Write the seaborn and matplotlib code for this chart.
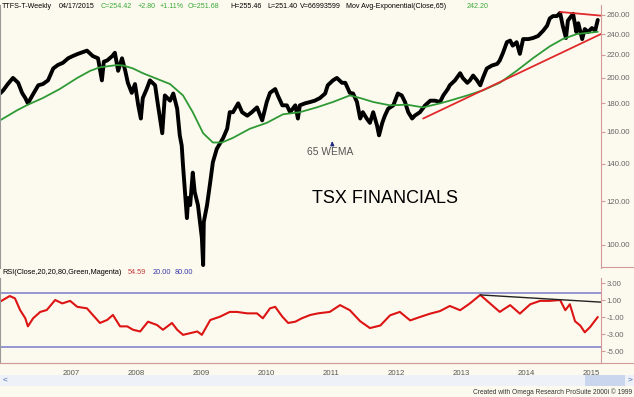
import numpy as np
import pandas as pd
import seaborn as sns
import matplotlib.pyplot as plt

# weekly closes (decimal year, price)
close_years = [2006.03, 2006.08, 2006.15, 2006.23, 2006.31, 2006.37, 2006.42, 2006.46, 2006.54, 2006.62,
               2006.69, 2006.77, 2006.85, 2006.92, 2007.00, 2007.08, 2007.15, 2007.23, 2007.37, 2007.46,
               2007.54, 2007.60, 2007.63, 2007.68, 2007.76, 2007.80, 2007.85, 2007.91, 2007.96, 2008.00,
               2008.06, 2008.11, 2008.16, 2008.20, 2008.23, 2008.29, 2008.34, 2008.42, 2008.46, 2008.53,
               2008.57, 2008.65, 2008.70, 2008.76, 2008.80, 2008.83, 2008.85, 2008.88, 2008.91, 2008.93,
               2008.96, 2009.00, 2009.03, 2009.08, 2009.14, 2009.16, 2009.17, 2009.22, 2009.27, 2009.31,
               2009.37, 2009.42, 2009.47, 2009.53, 2009.57, 2009.62, 2009.70, 2009.76, 2009.84, 2009.91,
               2009.99, 2010.07, 2010.14, 2010.19, 2010.27, 2010.31, 2010.38, 2010.45, 2010.50, 2010.58,
               2010.62, 2010.65, 2010.73, 2010.81, 2010.88, 2010.96, 2011.04, 2011.08, 2011.16, 2011.22,
               2011.30, 2011.35, 2011.42, 2011.47, 2011.53, 2011.58, 2011.62, 2011.68, 2011.73, 2011.78,
               2011.84, 2011.87, 2011.92, 2011.96, 2012.01, 2012.09, 2012.16, 2012.22, 2012.27, 2012.32,
               2012.38, 2012.42, 2012.50, 2012.58, 2012.66, 2012.73, 2012.81, 2012.86, 2012.93, 2012.96,
               2013.04, 2013.12, 2013.16, 2013.23, 2013.27, 2013.32, 2013.38, 2013.43, 2013.47, 2013.53,
               2013.61, 2013.69, 2013.73, 2013.78, 2013.84, 2013.89, 2013.93, 2013.99, 2014.04, 2014.09,
               2014.17, 2014.24, 2014.32, 2014.40, 2014.46, 2014.50, 2014.55, 2014.61, 2014.66, 2014.70,
               2014.75, 2014.78, 2014.86, 2014.91, 2014.94, 2015.00, 2015.04, 2015.09, 2015.15, 2015.20,
               2015.24]
close_values = [187.5, 190, 195, 200, 196, 188, 184, 180, 187, 194,
                195, 198, 208, 211, 213, 217, 219, 221, 224, 219,
                217, 198, 214, 215, 219, 222, 206, 217, 206, 196,
                188, 195, 178.5, 169, 184, 191, 198, 194, 180, 159,
                186, 182, 187.5, 176, 157.6, 151, 139, 124.6, 111.8, 121.5,
                118, 135, 124.6, 118, 103, 92, 110, 118, 130, 141,
                149, 152.5, 156, 162, 173.5, 173.5, 180, 173.5, 171, 173.5,
                177, 167.7, 181, 188, 191, 186, 178.5, 178.5, 173.5, 178.5,
                169, 178.5, 180, 181, 182, 184, 187.5, 194, 198, 200,
                196, 196, 188, 187.5, 181, 169, 173.5, 169, 166, 173.5,
                164, 157.6, 166, 171, 176, 178.5, 187.5, 186, 181, 173.5,
                169, 171, 173.5, 178.5, 182, 182, 181, 186, 191, 194,
                198, 204, 200, 196, 198, 202, 198, 194, 200, 208,
                210.6, 212, 215, 222, 232, 233.5, 228.7, 232, 221, 235,
                235, 236, 238, 243.4, 248.5, 256, 258.5, 258.5, 262, 248.5,
                236, 253.7, 261, 242, 251, 235, 245, 242, 246, 243.4,
                254.4]

# 65-week exponential moving average as drawn
ema_years = [2006.03, 2006.29, 2006.46, 2006.69, 2006.95, 2007.22, 2007.42, 2007.57, 2007.83, 2007.93,
             2008.08, 2008.23, 2008.34, 2008.65, 2008.85, 2009.00, 2009.16, 2009.31, 2009.45, 2009.62,
             2009.88, 2010.14, 2010.39, 2010.65, 2010.91, 2011.16, 2011.42, 2011.58, 2011.78, 2012.04,
             2012.30, 2012.55, 2012.81, 2012.96, 2013.23, 2013.47, 2013.73, 2013.99, 2014.24, 2014.50,
             2014.70, 2014.92, 2015.24]
ema_values = [167.7, 174.8, 179, 184, 191, 200, 206, 209, 211, 210.6,
              208, 204, 201.6, 195, 186, 173.5, 159, 153, 153, 156,
              162, 166, 172, 173.5, 177, 181, 186, 184, 181, 178.5,
              179, 177, 180, 182, 186, 190, 196, 206, 217, 228,
              235, 240, 242.2]

# RSI(20) as drawn against the right-hand scale
rsi_years = [2006.03, 2006.18, 2006.26, 2006.34, 2006.42, 2006.46, 2006.54, 2006.65, 2006.75, 2006.88,
             2006.99, 2007.11, 2007.22, 2007.37, 2007.46, 2007.57, 2007.68, 2007.77, 2007.88, 2007.99,
             2008.08, 2008.19, 2008.31, 2008.45, 2008.54, 2008.68, 2008.76, 2008.85, 2008.96, 2009.07,
             2009.14, 2009.27, 2009.42, 2009.57, 2009.68, 2009.84, 2009.99, 2010.08, 2010.19, 2010.27,
             2010.38, 2010.47, 2010.58, 2010.68, 2010.81, 2010.93, 2011.11, 2011.27, 2011.42, 2011.58,
             2011.73, 2011.89, 2012.04, 2012.19, 2012.35, 2012.50, 2012.66, 2012.81, 2012.96, 2013.12,
             2013.27, 2013.43, 2013.58, 2013.73, 2013.89, 2014.04, 2014.20, 2014.35, 2014.50, 2014.66,
             2014.74, 2014.81, 2014.89, 2014.97, 2015.04, 2015.12, 2015.24]
rsi_values = [0.8, 1.47, 1.2, -0.18, -1.15, -2.1, -1.15, -0.4, -0.18, 1.0,
              0.6, 0.9, 0.2, 0.02, -0.76, -1.7, -1.35, -0.76, -2.1, -2.1,
              -2.5, -2.7, -1.55, -1.94, -2.5, -1.7, -2.5, -3.1, -2.9, -2.7,
              -3.1, -1.35, -0.96, -0.4, -0.4, -0.57, -0.57, -1.15, 0.02, 0.2,
              -0.96, -1.7, -1.55, -1.15, -0.76, -0.57, -0.4, 0.4, -0.2, -1.5,
              -2.3, -2.0, -0.8, -0.4, -1.4, -1.0, -0.6, -0.3, 0.3, -0.2,
              0.6, 1.6, 0.6, -0.4, 0.4, -0.6, 0.5, 0.9, 0.9, 1.0,
              -0.2, 0.5, -1.5, -2.0, -2.8, -2.2, -1.0]

# hand-drawn trend lines (start/end)
support_years = [2012.55, 2015.29]
support_values = [169, 240]
resist_years = [2014.66, 2015.29]
resist_values = [263, 259]
rsi_trend_years = [2013.43, 2015.29]
rsi_trend_values = [1.6, 0.75]
rsi_bands = [1.82, -4.53]

year_ticks = [2007, 2008, 2009, 2010, 2011, 2012, 2013, 2014, 2015]
price_ticks = [100, 120, 140, 160, 180, 200, 220, 240, 260]
rsi_ticks = [3, 1, -1, -3, -5]

bg = '#fcfaee'
axis_pink = '#d49a9a'
sns.set_style('white', rc={'axes.facecolor': bg, 'figure.facecolor': bg})
plt.rcParams['font.family'] = ['Liberation Sans', 'DejaVu Sans']

fig = plt.figure(figsize=(6.34, 3.97), dpi=100)
ax = fig.add_axes([0.0, 0.325, 601 / 634, 0.675 - 5 / 397])
ax_r = fig.add_axes([0.0, 1 - 363 / 397, 601 / 634, 85 / 397])

price = pd.DataFrame({'year': close_years, 'close': close_values})
ema = pd.DataFrame({'year': ema_years, 'ema': ema_values})
sns.lineplot(data=price, x='year', y='close', ax=ax, color='black', lw=2.8, estimator=None)
sns.lineplot(data=ema, x='year', y='ema', ax=ax, color='#2f9a35', lw=1.3, estimator=None)
sns.lineplot(x=support_years, y=support_values, ax=ax, color='#e0292b', lw=1.3, estimator=None)
sns.lineplot(x=resist_years, y=resist_values, ax=ax, color='#e0292b', lw=1.3, estimator=None)

ax.set_yscale('log')
ax.set_xlim(2006.03, 2015.29)
ax.set_ylim(90.9, 270.7)
ax.yaxis.tick_right()
ax.set_yticks(price_ticks)
ax.set_yticks([], minor=True)
ax.set_yticklabels([f'{v:.2f}' for v in price_ticks])
ax.set_xticks([])
ax.set_xlabel('')
ax.set_ylabel('')

ax.text(2010.76, 147, '65 WEMA', fontsize=7.4, color='#555555', va='center', ha='left')
ax.annotate('', xy=(2011.15, 155.5), xytext=(2011.15, 150.5),
            arrowprops=dict(arrowstyle='-|>', color='#1f2a80', lw=1.0, mutation_scale=5))
ax.text(2010.84, 121.5, 'TSX FINANCIALS', fontsize=13, color='black', va='center', ha='left')

rsi = pd.DataFrame({'year': rsi_years, 'rsi': rsi_values})
for b in rsi_bands:
    ax_r.axhline(b, color='#8e8fd0', lw=1.3)
sns.lineplot(data=rsi, x='year', y='rsi', ax=ax_r, color='#dd1414', lw=1.5, estimator=None)
sns.lineplot(x=rsi_trend_years, y=rsi_trend_values, ax=ax_r, color='#222222', lw=1.0, estimator=None)
ax_r.set_xlim(2006.03, 2015.29)
ax_r.set_ylim(-6.41, 3.59)
ax_r.yaxis.tick_right()
ax_r.set_yticks(rsi_ticks)
ax_r.set_yticklabels([f'{v:.2f}' for v in rsi_ticks])
ax_r.set_xticks(year_ticks)
ax_r.set_xticklabels([str(y) for y in year_ticks])
ax_r.set_xlabel('')
ax_r.set_ylabel('')

for a in (ax, ax_r):
    for side in ('top', 'bottom', 'left', 'right'):
        a.spines[side].set_visible(False)
    a.spines['right'].set_visible(True)
    a.spines['right'].set_color(axis_pink)
    a.spines['left'].set_visible(True)
    a.spines['left'].set_color('#999999')
    a.tick_params(axis='y', which='major', direction='out', length=3, width=0.8, color=axis_pink,
                  labelsize=5.6, labelcolor='#666666', pad=1)
ax_r.spines['bottom'].set_visible(True)
ax_r.spines['bottom'].set_color(axis_pink)
ax_r.tick_params(axis='x', direction='out', length=5, width=0.8, color='#888888',
                 labelsize=5.6, labelcolor='#555555', pad=0)
for lab in ax_r.get_xticklabels():
    lab.set_ha('left')

# separator segments on the right margin
fig.add_artist(plt.Line2D([601 / 634, 1], [1 - 267 / 397] * 2, color=axis_pink, lw=0.8))
fig.add_artist(plt.Line2D([0, 1], [1 - 363 / 397] * 2, color=axis_pink, lw=0.8))

# header lines
hy = 1 - 6 / 397
hdr = [(2, 'TTFS-T-Weekly', 'black'), (59, '04/17/2015', 'black'), (101, 'C=254.42', '#3aa83a'),
       (138, '+2.80', '#3aa83a'), (160, '+1.11%', '#3aa83a'), (188, 'O=251.68', '#3aa83a'),
       (230, 'H=255.46', 'black'), (267, 'L=251.40', 'black'), (300, 'V=66993599', 'black'),
       (346, 'Mov Avg-Exponential(Close,65)', 'black'), (467, '242.20', '#3aa83a')]
for x, s, c in hdr:
    fig.text(x / 634, hy, s, fontsize=5.1, color=c, va='center', ha='left')

ry = 1 - 272 / 397
rsi_hdr = [(2, 'RSI(Close,20,20,80,Green,Magenta)', 'black'), (128, '54.59', '#cc3b3b'),
           (153, '20.00', '#3a3aa8'), (175, '80.00', '#3a3aa8')]
for x, s, c in rsi_hdr:
    fig.text(x / 634, ry, s, fontsize=5.3, color=c, va='center', ha='left')

# scrollbar strip and footer
fig.add_artist(plt.Rectangle((0, 1 - 386 / 397), 1, 11 / 397, color='#eef1f8', lw=0))
fig.add_artist(plt.Rectangle((585 / 634, 1 - 386 / 397), 40 / 634, 11 / 397, color='#c9d6ee', lw=0))
fig.text(3 / 634, 1 - 380.5 / 397, '<', fontsize=6, color='#3a5fa8', va='center')
fig.text(628 / 634, 1 - 380.5 / 397, '>', fontsize=6, color='#3a5fa8', va='center')
fig.text(632 / 634, 1 - 392 / 397, 'Created with Omega Research ProSuite 2000i \u00a9 1999',
         fontsize=4.8, color='#333333', va='center', ha='right')

fig.savefig('out.png', dpi=100, facecolor=bg)
